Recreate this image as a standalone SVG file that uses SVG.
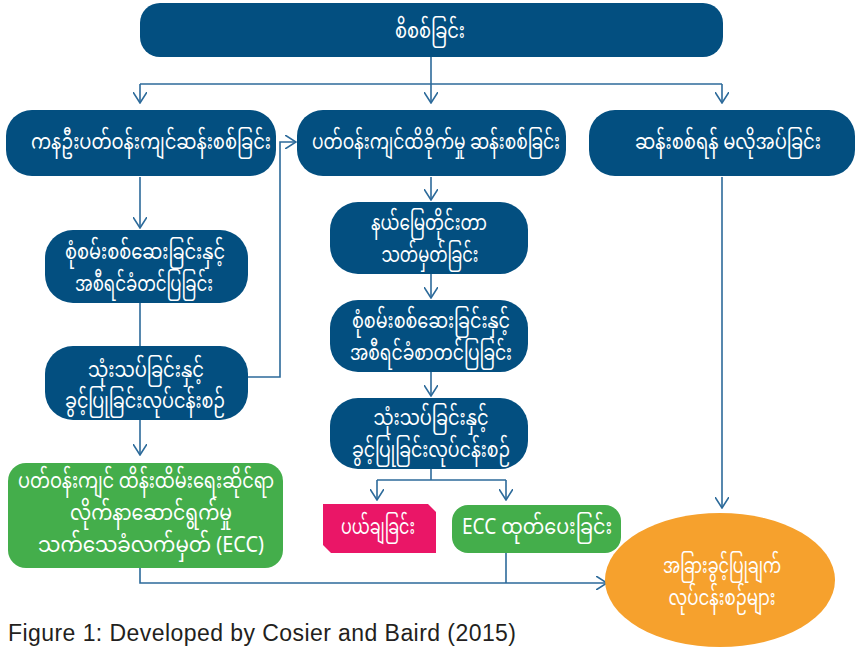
<svg xmlns="http://www.w3.org/2000/svg" width="857" height="649" viewBox="0 0 857 649">
<defs>
<style>
.b{fill:#034f80}
.g{fill:#44ae4b}
.t{fill:#fff;font-family:"Noto Sans Myanmar","Padauk","Myanmar Text","Noto Sans",sans-serif;font-size:21px;text-anchor:middle}
.c{fill:none;stroke:#2c6a9a;stroke-width:1.6}
.cap{fill:#231f20;font-family:"Liberation Sans",Arial,sans-serif;font-size:23px}
</style>
<marker id="a" viewBox="0 0 12 14" refX="11" refY="7" markerWidth="12" markerHeight="14" markerUnits="userSpaceOnUse" orient="auto">
<path d="M0,0 L11,7 L0,14" fill="none" stroke="#2c6a9a" stroke-width="1.6"/>
</marker>
</defs>
<g id="connectors">
<path class="c" d="M431,57 V84"/>
<path class="c" d="M140,84 H722"/>
<path class="c" d="M722,84 V103" marker-end="url(#a)"/>
<path class="c" d="M140,84 V103" marker-end="url(#a)"/>
<path class="c" d="M431,84 V103" marker-end="url(#a)"/>
<path class="c" d="M140,177 V228" marker-end="url(#a)"/>
<path class="c" d="M140,303 V346"/>
<path class="c" d="M248,377 H280 V142 H296" marker-end="url(#a)"/>
<path class="c" d="M140,420 V455" marker-end="url(#a)"/>
<path class="c" d="M431,177 V200" marker-end="url(#a)"/>
<path class="c" d="M431,274 V298" marker-end="url(#a)"/>
<path class="c" d="M431,372 V396" marker-end="url(#a)"/>
<path class="c" d="M431,469 V480"/>
<path class="c" d="M377,480 H506"/>
<path class="c" d="M377,480 V500" marker-end="url(#a)"/>
<path class="c" d="M506,480 V500" marker-end="url(#a)"/>
<path class="c" d="M722,177 V508" marker-end="url(#a)"/>
<path class="c" d="M140,568 V583 H607" marker-end="url(#a)"/>
<path class="c" d="M506,553 V583"/>
</g>
<g id="n1"><rect class="b" x="140" y="3" width="583" height="54" rx="20"/><text class="t" x="430" y="38" textLength="70" lengthAdjust="spacingAndGlyphs">စိစစ်ခြင်း</text></g>
<g id="n2"><rect class="b" x="6" y="110" width="270" height="66" rx="26"/><text class="t" x="151" y="149" textLength="240" lengthAdjust="spacingAndGlyphs">ကနဦးပတ်ဝန်းကျင်ဆန်းစစ်ခြင်း</text></g>
<g id="n3"><rect class="b" x="297" y="110" width="269" height="66" rx="26"/><text class="t" x="436" y="149" textLength="248" lengthAdjust="spacingAndGlyphs">ပတ်ဝန်းကျင်ထိခိုက်မှု  ဆန်းစစ်ခြင်း</text></g>
<g id="n4"><rect class="b" x="589" y="110" width="266" height="66" rx="26"/><text class="t" x="728" y="149" textLength="186" lengthAdjust="spacingAndGlyphs">ဆန်းစစ်ရန်  မလိုအပ်ခြင်း</text></g>
<g id="n5"><rect class="b" x="45" y="230" width="203" height="73" rx="28"/><text class="t" x="145" y="259" textLength="160" lengthAdjust="spacingAndGlyphs">စုံစမ်းစစ်ဆေးခြင်းနှင့်</text><text class="t" x="144" y="291" textLength="138" lengthAdjust="spacingAndGlyphs">အစီရင်ခံတင်ပြခြင်း</text></g>
<g id="n6"><rect class="b" x="45" y="346" width="203" height="74" rx="28"/><text class="t" x="146" y="377" textLength="116" lengthAdjust="spacingAndGlyphs">သုံးသပ်ခြင်းနှင့်</text><text class="t" x="145" y="408" textLength="160" lengthAdjust="spacingAndGlyphs">ခွင့်ပြုခြင်းလုပ်ငန်းစဉ်</text></g>
<g id="n7"><rect class="b" x="330" y="202" width="198" height="72" rx="28"/><text class="t" x="429" y="230" textLength="116" lengthAdjust="spacingAndGlyphs">နယ်မြေတိုင်းတာ</text><text class="t" x="430" y="262" textLength="97" lengthAdjust="spacingAndGlyphs">သတ်မှတ်ခြင်း</text></g>
<g id="n8"><rect class="b" x="330" y="300" width="198" height="72" rx="28"/><text class="t" x="431" y="328" textLength="158" lengthAdjust="spacingAndGlyphs">စုံစမ်းစစ်ဆေးခြင်းနှင့်</text><text class="t" x="431" y="360" textLength="162" lengthAdjust="spacingAndGlyphs">အစီရင်ခံစာတင်ပြခြင်း</text></g>
<g id="n9"><rect class="b" x="330" y="398" width="198" height="71" rx="28"/><text class="t" x="431" y="425" textLength="115" lengthAdjust="spacingAndGlyphs">သုံးသပ်ခြင်းနှင့်</text><text class="t" x="431" y="457" textLength="158" lengthAdjust="spacingAndGlyphs">ခွင့်ပြုခြင်းလုပ်ငန်းစဉ်</text></g>
<g id="n10"><rect class="g" x="8" y="463" width="275" height="105" rx="18"/><text class="t" x="146" y="488" textLength="256" lengthAdjust="spacingAndGlyphs">ပတ်ဝန်းကျင်  ထိန်းထိမ်းရေးဆိုင်ရာ</text><text class="t" x="151" y="520" textLength="162" lengthAdjust="spacingAndGlyphs">လိုက်နာဆောင်ရွက်မှု</text><text class="t" x="151" y="552" textLength="226" lengthAdjust="spacingAndGlyphs">သက်သေခံလက်မှတ် (ECC)</text></g>
<g id="n11"><path d="M323,504 H428 L436,512 V553 H331 L323,545 Z" fill="#ea1667"/><text class="t" x="378" y="534" textLength="74" lengthAdjust="spacingAndGlyphs">ပယ်ချခြင်း</text></g>
<g id="n12"><rect class="g" x="452" y="505" width="169" height="48" rx="16"/><text class="t" x="537" y="534" textLength="150" lengthAdjust="spacingAndGlyphs">ECC ထုတ်ပေးခြင်း</text></g>
<g id="n13"><ellipse cx="720" cy="580" rx="115" ry="67" fill="#f6a12d"/><text class="t" x="722" y="573" textLength="118" lengthAdjust="spacingAndGlyphs">အခြားခွင့်ပြုချက်</text><text class="t" x="722" y="605" textLength="107" lengthAdjust="spacingAndGlyphs">လုပ်ငန်းစဉ်များ</text></g>
<text class="cap" x="8" y="641" textLength="508">Figure 1: Developed by Cosier and Baird (2015)</text>
</svg>
